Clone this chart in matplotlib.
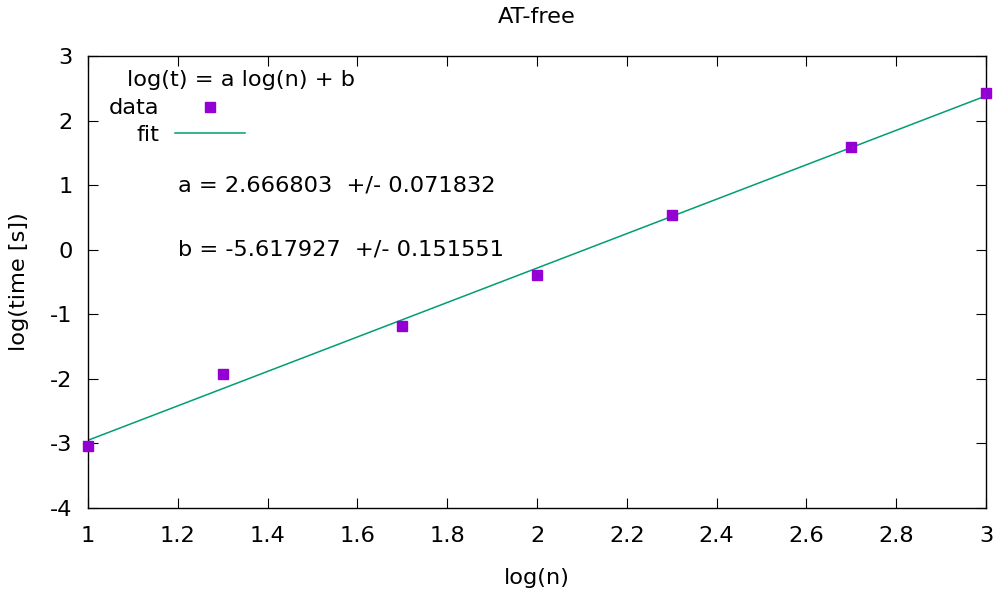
import numpy as np
import matplotlib.pyplot as plt

# ---------------------- data ----------------------
log_n = [1.0, 1.301, 1.699, 2.0, 2.301, 2.699, 3.0]
log_t = [-3.04, -1.92, -1.18, -0.39, 0.54, 1.59, 2.43]

# fit parameters (from the plot annotation)
a = 2.666803
a_err = 0.071832
b = -5.617927
b_err = 0.151551

x_ticks = [1, 1.2, 1.4, 1.6, 1.8, 2, 2.2, 2.4, 2.6, 2.8, 3]
x_tick_labels = ["1", "1.2", "1.4", "1.6", "1.8", "2", "2.2", "2.4", "2.6", "2.8", "3"]
y_ticks = [-4, -3, -2, -1, 0, 1, 2, 3]

data_color = "#9400D3"
fit_color = "#009E73"
fs = 16.2

plt.rcParams["font.family"] = ["DejaVu Sans"]

fig = plt.figure(figsize=(9.99, 5.95), dpi=100)
ax = fig.add_axes([88 / 999, 1 - 508 / 595, 898 / 999, 452 / 595])

# data points
ax.plot(log_n, log_t, linestyle="none", marker="s", markersize=7.2,
        color=data_color, label="data", clip_on=False, zorder=3)

# fit line
xf = np.array([min(log_n), max(log_n)])
ax.plot(xf, a * xf + b, color=fit_color, linewidth=1.1, label="fit", zorder=2)

ax.set_xlim(1, 3)
ax.set_ylim(-4, 3)
ax.set_xticks(x_ticks)
ax.set_xticklabels(x_tick_labels)
ax.set_yticks(y_ticks)
ax.set_yticklabels([str(v) for v in y_ticks])

ax.tick_params(direction="in", length=7, width=0.8, top=True, right=True,
               labelsize=fs)
ax.tick_params(axis="x", pad=13)
ax.tick_params(axis="y", pad=11)
for s in ax.spines.values():
    s.set_linewidth(1.0)

ax.set_title("AT-free", fontsize=fs, pad=24)
ax.set_xlabel("log(n)", fontsize=fs, labelpad=16)
ax.set_ylabel("log(time [s])", fontsize=fs, labelpad=15)

# legend (gnuplot style: label left, sample right)
ax.text(0.1704, 0.9469, "log(t) = a log(n) + b", transform=ax.transAxes,
        fontsize=fs, ha="center", va="center")
ax.legend(loc="upper right", bbox_to_anchor=(0.1748, 0.906), frameon=False,
          markerfirst=False, fontsize=fs, numpoints=1, borderpad=0,
          borderaxespad=0, handlelength=3.1, handletextpad=0.72,
          labelspacing=0.28)

ax.text(0.1002, 0.7146, f"a = {a:.6f}  +/- {a_err:.6f}", transform=ax.transAxes,
        fontsize=fs, ha="left", va="center")
ax.text(0.1002, 0.5708, f"b = {b:.6f}  +/- {b_err:.6f}", transform=ax.transAxes,
        fontsize=fs, ha="left", va="center")

fig.savefig("out.png", dpi=100)
